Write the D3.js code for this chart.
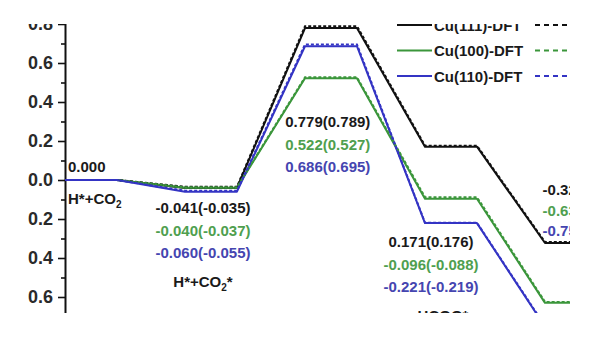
<!DOCTYPE html>
<html><head><meta charset="utf-8">
<script src="https://cdn.jsdelivr.net/npm/d3@7"></script>
<style>
html,body{margin:0;padding:0;background:#fff;}
svg{display:block;font-family:"Liberation Sans",Arial,sans-serif;font-weight:bold;}
</style></head>
<body><svg id="c" width="600" height="338"></svg>
<script>
// ---- data ----
const states = [0, 1, 2, 3, 4];
const seriesNames = ["Cu(111)-DFT", "Cu(100)-DFT", "Cu(110)-DFT"];
const cu111 = [0.000, -0.041, 0.779, 0.171, -0.323];
const cu100 = [0.000, -0.040, 0.522, -0.096, -0.630];
const cu110 = [0.000, -0.060, 0.686, -0.221, -0.752];
const cu111Dash = [0.000, -0.035, 0.789, 0.176, -0.318];
const cu100Dash = [0.000, -0.037, 0.527, -0.088, -0.625];
const cu110Dash = [0.000, -0.055, 0.695, -0.219, -0.748];
const colors = ["#111111", "#3b963b", "#3434c4"];
const textColors = ["#1a1a1a", "#4f9f4f", "#4545b0"];
const yTicks = [-0.8, -0.6, -0.4, -0.2, 0.0, 0.2, 0.4, 0.6, 0.8];
const yMinorTicks = [-0.7, -0.5, -0.3, -0.1, 0.1, 0.3, 0.5, 0.7, 0.9];
const stateNames = ["H*+CO|2|", "H*+CO|2|*", "", "HCOO*", ""];

const svg = d3.select("#c");
const x = d3.scaleLinear().domain([0, 5]).range([65, 665]);
const y = d3.scaleLinear().domain([-0.9, 1.0]).range([180 + 0.9 * 195, 180 - 195]);
const flatW = 0.433;

svg.append("defs").append("clipPath").attr("id", "clip")
  .append("rect").attr("x", 28).attr("y", 24).attr("width", 542).attr("height", 289);
const g = svg.append("g").attr("clip-path", "url(#clip)");

// y axis
const ax = g.append("g").attr("transform", "translate(65,0)");
ax.call(d3.axisLeft(y).tickValues(yTicks).tickSize(7).tickPadding(5)
  .tickFormat(d => d3.format(".1f")(d).replace("−", "-")));
ax.select(".domain").attr("stroke", "#111").attr("stroke-width", 2);
ax.selectAll(".tick line").attr("stroke", "#111").attr("stroke-width", 1.6);
ax.selectAll(".tick text").attr("font-size", 18).attr("fill", "#2a2a2a")
  .attr("font-family", "Liberation Sans, Arial, sans-serif").attr("font-weight", "bold");
const ax2 = g.append("g").attr("transform", "translate(65,0)");
ax2.call(d3.axisLeft(y).tickValues(yMinorTicks).tickSize(4).tickFormat(""));
ax2.select(".domain").remove();
ax2.selectAll(".tick line").attr("stroke", "#111").attr("stroke-width", 1.6);

// lines
function pts(vals) {
  const p = [];
  states.forEach((s, i) => { p.push([s, vals[i]]); p.push([s + flatW, vals[i]]); });
  return p;
}
const line = d3.line().x(d => x(d[0])).y(d => y(d[1]));
const solids = [cu111, cu100, cu110];
const dashes = [cu111Dash, cu100Dash, cu110Dash];
solids.forEach((v, k) => {
  g.append("path").attr("d", line(pts(v))).attr("fill", "none")
    .attr("stroke", colors[k]).attr("stroke-width", 2).attr("stroke-linejoin", "round");
});
dashes.forEach((v, k) => {
  g.append("path").attr("d", line(pts(v))).attr("fill", "none")
    .attr("stroke", colors[k]).attr("stroke-width", 2).attr("stroke-dasharray", "3,2");
});

// value labels
function fmt(v) { return d3.format(".3f")(v).replace("−", "-"); }
const fs = 15;
function txt(xp, yp, str, color, anchor) {
  const t = g.append("text").attr("x", xp).attr("y", yp).attr("fill", color)
    .attr("font-size", fs).attr("text-anchor", anchor || "middle");
  const parts = str.split("|");
  parts.forEach((p, i) => {
    if (!p) return;
    const ts = t.append("tspan").text(p);
    if (i % 2 === 1) ts.attr("font-size", 10).attr("dy", 4);
    else if (i > 0) ts.attr("dy", -4);
  });
  return t;
}
// state 0
txt(x(0) + 3, 172, fmt(cu111[0]), "#1a1a1a", "start");
txt(x(0) + 3, 204, stateNames[0], "#1a1a1a", "start");
// other states
const labelPos = [
  null,
  { cx: x(1.15), base: 213, step: 22.5, anchor: "middle", name: 287 },
  { cx: x(2.19), base: 127, step: 22.5, anchor: "middle", name: null },
  { cx: x(3.05), base: 247, step: 22.5, anchor: "middle", name: 321 },
  { cx: x(3.98), base: 195, step: 20.5, anchor: "start", name: null }
];
for (let i = 1; i < states.length; i++) {
  const lp = labelPos[i];
  solids.forEach((v, k) => {
    txt(lp.cx, lp.base + k * lp.step, fmt(v[i]) + "(" + fmt(dashes[k][i]) + ")", textColors[k], lp.anchor);
  });
  if (lp.name && stateNames[i]) txt(lp.cx + (i === 3 ? 12 : 0), lp.name, stateNames[i], "#1a1a1a", "middle");
}

// legend
seriesNames.forEach((n, k) => {
  const cy = 25 + k * 25.5;
  g.append("line").attr("x1", 397).attr("x2", 432).attr("y1", cy).attr("y2", cy)
    .attr("stroke", colors[k]).attr("stroke-width", 2);
  g.append("text").attr("x", 434).attr("y", cy + 5.5).attr("font-size", 15)
    .attr("fill", "#1a1a1a").text(n);
  g.append("line").attr("x1", 535).attr("x2", 580).attr("y1", cy).attr("y2", cy)
    .attr("stroke", colors[k]).attr("stroke-width", 2).attr("stroke-dasharray", "5,4");
});
</script></body></html>
